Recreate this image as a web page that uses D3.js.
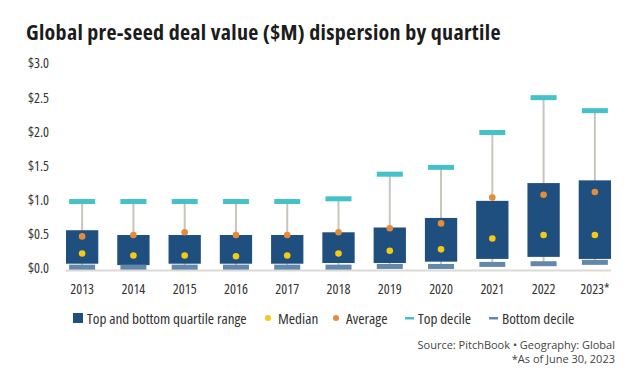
<!DOCTYPE html>
<html>
<head>
<meta charset="utf-8">
<script src="https://cdn.jsdelivr.net/npm/d3@7"></script>
<style>
  body { margin: 0; background: #fff; }
  .narrow text, text.narrow { font-family: "Open Sans", sans-serif; font-stretch: 75%; }
</style>
</head>
<body>
<div id="chart"></div>
<script>
// Data ($M)
const years = ["2013", "2014", "2015", "2016", "2017", "2018", "2019", "2020", "2021", "2022", "2023*"];
const topDecile = [0.98, 0.98, 0.98, 0.98, 0.98, 1.02, 1.38, 1.48, 1.99, 2.50, 2.31];
const upperQuartile = [0.56, 0.49, 0.49, 0.49, 0.49, 0.53, 0.60, 0.74, 0.99, 1.25, 1.29];
const lowerQuartile = [0.07, 0.05, 0.07, 0.07, 0.07, 0.08, 0.08, 0.10, 0.14, 0.17, 0.14];
const bottomDecile = [0.02, 0.02, 0.02, 0.02, 0.02, 0.02, 0.03, 0.03, 0.06, 0.07, 0.09];
const average = [0.47, 0.49, 0.53, 0.49, 0.49, 0.53, 0.59, 0.66, 1.04, 1.08, 1.12];
const median = [0.22, 0.19, 0.19, 0.18, 0.19, 0.22, 0.26, 0.28, 0.44, 0.49, 0.49];
const yTicks = [0, 0.5, 1, 1.5, 2, 2.5, 3];

const data = years.map((y, i) => ({
    year: y,
    top: topDecile[i],
    q3: upperQuartile[i],
    q1: lowerQuartile[i],
    bottom: bottomDecile[i],
    avg: average[i],
    med: median[i]
}));

const width = 637, height = 371;
const svg = d3.select("#chart").append("svg")
    .attr("width", width)
    .attr("height", height);

// Title
svg.append("text")
    .attr("x", 26)
    .attr("y", 40)
    .attr("font-family", "'Open Sans', sans-serif")
    .attr("font-weight", 700)
    .attr("font-size", 22)
    .attr("letter-spacing", 0.3)
    .style("font-stretch", "87.5%")
    .attr("fill", "#1c1c1c")
    .text("Global pre-seed deal value ($M) dispersion by quartile");

// Scales
const x = d3.scaleBand()
    .domain(years)
    .range([56.5, 620.5])
    .paddingInner(0.37)
    .paddingOuter(0.185);

const y = d3.scaleLinear()
    .domain([0, 3])
    .range([268.5, 63.5]);

// Y axis
const yAxis = svg.append("g")
    .attr("class", "narrow")
    .attr("transform", "translate(49,0)")
    .call(d3.axisLeft(y).tickValues(yTicks).tickSize(0).tickPadding(0)
        .tickFormat(d => "$" + d3.format(".1f")(d)));
yAxis.select(".domain").remove();
yAxis.selectAll("text")
    .attr("font-size", 14)
    .attr("fill", "#333");

// Baseline
svg.append("line")
    .attr("x1", x(years[0]))
    .attr("x2", x(years[years.length - 1]) + x.bandwidth())
    .attr("y1", 270.5)
    .attr("y2", 270.5)
    .attr("stroke", "#dcdad5")
    .attr("stroke-width", 2);

// X axis
const xAxis = svg.append("g")
    .attr("class", "narrow")
    .attr("transform", "translate(0,284.5)")
    .call(d3.axisBottom(x).tickSize(0).tickPadding(0));
xAxis.select(".domain").remove();
xAxis.selectAll("text")
    .attr("font-size", 14)
    .attr("fill", "#333");

const groups = svg.append("g").selectAll("g")
    .data(data)
    .join("g")
    .attr("transform", d => `translate(${x(d.year) + x.bandwidth() / 2},0)`);

const capW = 26, capH = 5;

// Whiskers
groups.append("line")
    .attr("y1", d => y(d.top))
    .attr("y2", d => y(d.bottom))
    .attr("stroke", "#c9c5bd")
    .attr("stroke-width", 2);

// Box (interquartile range)
groups.append("rect")
    .attr("x", -x.bandwidth() / 2)
    .attr("width", x.bandwidth())
    .attr("y", d => y(d.q3))
    .attr("height", d => y(d.q1) - y(d.q3))
    .attr("fill", "#1f4f7f");

// Top decile
groups.append("rect")
    .attr("x", -capW / 2)
    .attr("width", capW)
    .attr("y", d => y(d.top) - capH / 2)
    .attr("height", capH)
    .attr("fill", "#45c1c9");

// Bottom decile
groups.append("rect")
    .attr("x", -capW / 2)
    .attr("width", capW)
    .attr("y", d => y(d.bottom) - capH / 2)
    .attr("height", capH)
    .attr("fill", "#6388ab");

// Average
groups.append("circle")
    .attr("cy", d => y(d.avg))
    .attr("r", 3.3)
    .attr("fill", "#e68b3a");

// Median
groups.append("circle")
    .attr("cy", d => y(d.med))
    .attr("r", 3.3)
    .attr("fill", "#f6c913");

// Legend
const legend = svg.append("g").attr("class", "narrow");
const legendItems = [
    { label: "Top and bottom quartile range", type: "square", color: "#1f4f7f", x: 73, tx: 87 },
    { label: "Median", type: "dot", color: "#f6c913", x: 268, tx: 278 },
    { label: "Average", type: "dot", color: "#e68b3a", x: 336, tx: 346 },
    { label: "Top decile", type: "dash", color: "#45c1c9", x: 405, tx: 418 },
    { label: "Bottom decile", type: "dash", color: "#6388ab", x: 489, tx: 502 }
];
legendItems.forEach(item => {
    if (item.type === "square") {
        legend.append("rect").attr("x", item.x).attr("y", 313).attr("width", 10).attr("height", 10).attr("fill", item.color);
    } else if (item.type === "dot") {
        legend.append("circle").attr("cx", item.x).attr("cy", 318).attr("r", 3).attr("fill", item.color);
    } else {
        legend.append("rect").attr("x", item.x).attr("y", 317).attr("width", 9).attr("height", 2.5).attr("fill", item.color);
    }
    legend.append("text")
        .attr("x", item.tx)
        .attr("y", 323.5)
        .attr("font-size", 15.2)
        .attr("fill", "#333")
        .text(item.label);
});

// Source notes
const notes = svg.append("g")
    .attr("font-family", "'Open Sans', sans-serif")
    .attr("font-size", 11)
    .attr("fill", "#444")
    .attr("text-anchor", "end");
notes.append("text").attr("x", 615).attr("y", 349).text("Source: PitchBook  \u2022  Geography: Global");
notes.append("text").attr("x", 615).attr("y", 363).text("*As of June 30, 2023");
</script>
</body>
</html>
